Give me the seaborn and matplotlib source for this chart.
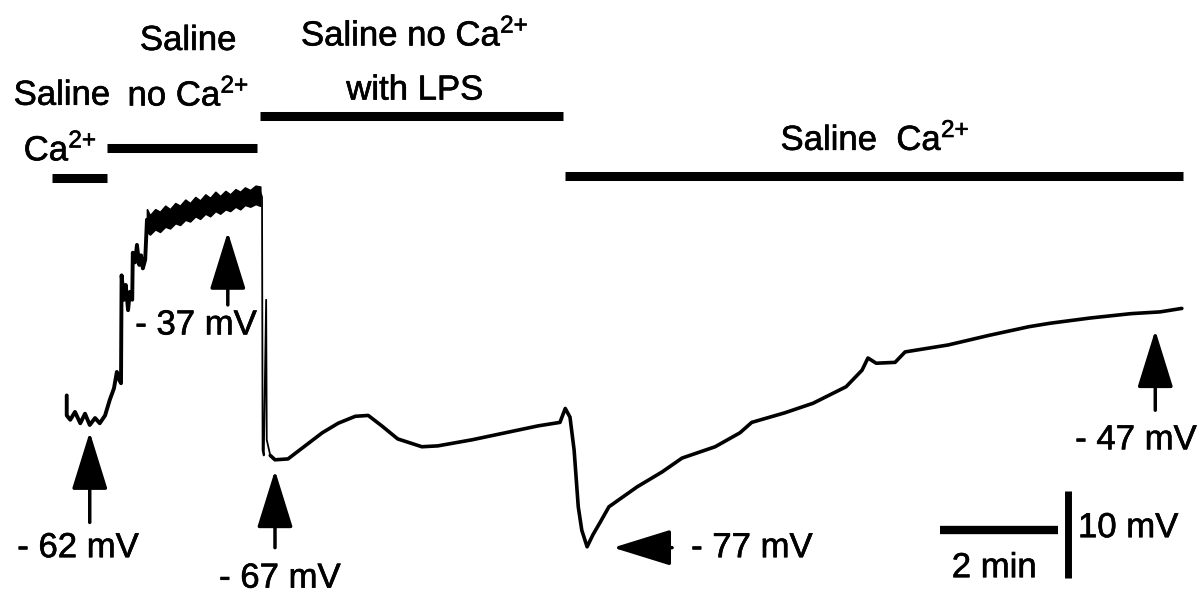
import numpy as np
import pandas as pd
import seaborn as sns
import matplotlib.pyplot as plt
import matplotlib.patheffects as pe

# membrane potential trace, time in min, potential in mV
# saline with Ca, then the steps after Ca removal
rise_t = [0.08, 0.08, 0.14, 0.22, 0.31, 0.39, 0.47, 0.56, 0.64, 0.73, 0.81, 0.88,
          0.93, 0.97, 1.00, 1.01, 1.05, 1.08, 1.12, 1.15, 1.19, 1.20, 1.24, 1.27,
          1.31, 1.34, 1.37, 1.41, 1.44]
rise_v = [-59.4, -61.7, -62.2, -61.3, -62.6, -61.5, -62.8, -62.0, -62.6, -61.7, -59.9, -58.6,
          -56.7, -57.6, -58.0, -45.6, -48.4, -46.7, -49.6, -47.5, -48.4, -43.0, -44.1, -42.1,
          -44.4, -43.3, -44.8, -43.8, -39.2]

# noisy plateau in saline without Ca (upper / lower edge of the noise band)
plateau_t = [1.44, 1.49, 1.58, 1.66, 1.75, 1.83, 1.92, 2.00, 2.09, 2.17, 2.26, 2.34, 2.43,
             2.51, 2.60, 2.68, 2.77, 2.85, 2.94, 3.02, 3.10, 3.19, 3.28, 3.36]
plateau_hi = [-38.0, -38.7, -38.0, -38.3, -37.6, -38.0, -37.3, -37.6, -36.9, -37.3, -36.6, -37.0,
              -36.3, -36.7, -36.0, -36.5, -35.9, -36.3, -35.7, -36.0, -35.5, -35.8, -35.3, -35.4]
plateau_lo = [-40.6, -40.9, -40.3, -40.6, -40.0, -40.2, -39.6, -39.8, -39.2, -39.4, -38.8, -39.1,
              -38.5, -38.8, -38.2, -38.5, -38.0, -38.2, -37.7, -38.0, -37.5, -37.7, -37.4, -37.6]

# drop when LPS is added (thin fast part of the trace)
drop_t = [3.36, 3.39, 3.40, 3.42, 3.46, 3.47, 3.53]
drop_v = [-36.0, -36.6, -65.7, -66.3, -48.4, -64.5, -66.3]

# LPS and return to saline with Ca
lps_t = [3.53, 3.61, 3.83, 4.12, 4.41, 4.68, 4.97,
         5.19, 5.42, 5.69, 6.10, 6.37, 6.95, 7.51, 8.07, 8.44, 8.53, 8.61, 8.68, 8.75,
         8.81, 8.90, 9.00, 9.12, 9.27, 9.75, 10.17, 10.51, 11.07, 11.49, 11.69, 12.25,
         12.73, 13.29, 13.56, 13.66, 13.80, 14.12, 14.29, 15.02, 15.71, 16.39, 16.75,
         17.43, 18.12, 18.61, 18.98]
lps_v = [-66.3, -66.8, -66.7, -65.2, -63.7, -62.6, -61.8,
         -61.7, -62.9, -64.4, -65.3, -65.2, -64.5, -63.7, -62.9, -62.5, -60.9, -61.9, -65.7, -72.2,
         -74.9, -76.8, -75.4, -74.0, -72.2, -69.9, -68.2, -66.6, -65.3, -63.7, -62.5, -61.4,
         -60.3, -58.4, -56.5, -55.1, -55.7, -55.6, -54.4, -53.6, -52.5, -51.5, -51.1,
         -50.5, -50.0, -49.8, -49.4]

# solution periods (min)
period_start = [-0.17, 0.76, 3.36, 8.53]
period_end = [0.76, 3.31, 8.49, 19.00]

# labelled potentials
mark_labels = ['- 62 mV', '- 37 mV', '- 67 mV', '- 77 mV', '- 47 mV']

sns.set_style('white')
plt.rcParams['font.family'] = ['Liberation Sans', 'DejaVu Sans']
plt.rcParams['mathtext.fontset'] = 'custom'
plt.rcParams['mathtext.rm'] = 'Liberation Sans'
plt.rcParams['mathtext.it'] = 'Liberation Sans'
plt.rcParams['text.color'] = 'black'

fig = plt.figure(figsize=(12.01, 5.97), dpi=100)
ax = fig.add_axes([0, 0, 1, 1])

df1 = pd.DataFrame({'t': rise_t, 'v': rise_v})
df2 = pd.DataFrame({'t': drop_t, 'v': drop_v})
df3 = pd.DataFrame({'t': lps_t, 'v': lps_v})
sns.lineplot(data=df1, x='t', y='v', sort=False, estimator=None, color='black', lw=2.8, ax=ax)
ax.fill_between(plateau_t, plateau_lo, plateau_hi, color='black', lw=1.2)
sns.lineplot(data=df2, x='t', y='v', sort=False, estimator=None, color='black', lw=1.3, ax=ax)
sns.lineplot(data=df3, x='t', y='v', sort=False, estimator=None, color='black', lw=2.6, ax=ax)

# solution bars
bar_y = [-34.4, -30.97, -27.3, -34.2]
for s, e, y in zip(period_start, period_end, bar_y):
    ax.plot([s, e], [y, y], color='black', lw=6.5, solid_capstyle='butt')

fs = 25
peff = [pe.withStroke(linewidth=0.45, foreground='black')]
ca = 'Ca$^{2{+}}$'


def label(x, y, s, ha='center'):
    ax.text(x, y, s, ha=ha, va='center', fontsize=fs, path_effects=peff)


label(0.0, -24.9, 'Saline')
label(-0.03, -31.2, ca)
label(2.14, -18.6, 'Saline')
label(2.14, -24.9, 'no ' + ca)
label(5.98, -18.0, 'Saline no ' + ca)
label(5.98, -24.3, 'with LPS')
label(13.78, -30.0, 'Saline  ' + ca)

# arrows pointing to the labelled potentials
aprops = dict(arrowstyle='-|>,head_length=1.45,head_width=0.45', mutation_scale=25,
              color='black', lw=2.5, shrinkA=0, shrinkB=0)
ups = [(0.47, -63.6, -74.0, 0.27, -76.9, mark_labels[0]),
       (2.81, -40.6, -49.0, 2.27, -51.3, mark_labels[1]),
       (3.61, -68.0, -76.9, 3.69, -80.4, mark_labels[2]),
       (18.53, -51.9, -61.1, 18.20, -64.5, mark_labels[4])]
for x, tip, tail, lx, ly, lab in ups:
    ax.annotate('', xy=(x, tip), xytext=(x, tail), arrowprops=aprops)
    label(lx, ly, lab)
ax.annotate('', xy=(9.34, -76.9), xytext=(10.34, -76.9), arrowprops=aprops)
label(11.69, -76.9, mark_labels[3])

# scale bars: 2 min, 10 mV
ax.plot([14.88, 14.88 + 2], [-74.9, -74.9], color='black', lw=6, solid_capstyle='butt')
ax.plot([17.05, 17.05], [-80.4, -80.4 + 10], color='black', lw=5, solid_capstyle='butt')
label(15.8, -79.2, '2 min')
label(17.22, -74.6, '10 mV', ha='left')

ax.set_xlim(-1.051, 19.305)
ax.set_ylim(-82.57, -13.95)
ax.axis('off')

fig.savefig('out.png', dpi=100)
